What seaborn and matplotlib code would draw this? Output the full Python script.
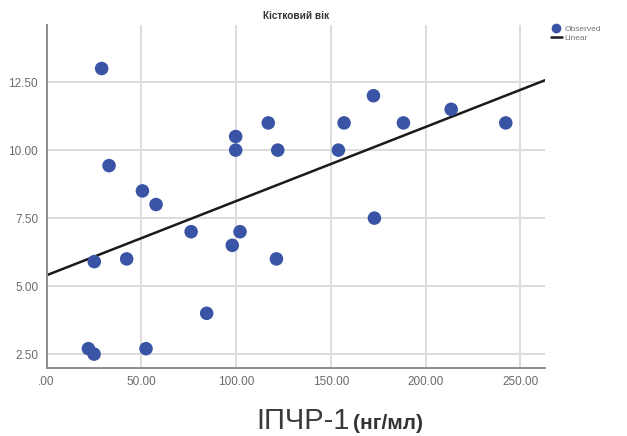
import numpy as np
import pandas as pd
import matplotlib
matplotlib.use("Agg")
import matplotlib.pyplot as plt
from matplotlib.lines import Line2D
import seaborn as sns

# Data
igf = [29.1, 33.0, 50.6, 57.8, 99.8, 99.8, 117.0, 122.0, 157.0, 154.0,
       172.5, 188.3, 213.5, 242.3, 102.1, 98.0, 121.3, 173.0, 25.2, 42.3,
       76.3, 84.5, 22.1, 25.1, 52.5]
bone_age = [13.0, 9.43, 8.5, 8.0, 10.5, 10.0, 11.0, 10.0, 11.0, 10.0,
            12.0, 11.0, 11.5, 11.0, 7.0, 6.5, 6.0, 7.5, 5.9, 6.0,
            7.0, 4.0, 2.7, 2.5, 2.7]
x_ticks = [0, 50, 100, 150, 200, 250]
x_tick_labels = [".00", "50.00", "100.00", "150.00", "200.00", "250.00"]
y_ticks = [2.5, 5.0, 7.5, 10.0, 12.5]
y_tick_labels = ["2.50", "5.00", "7.50", "10.00", "12.50"]
title = "Кістковий вік"
xlabel_main = "ІПЧР-1"
xlabel_unit = "(нг/мл)"
legend_labels = ["Observed", "Linear"]

df = pd.DataFrame({"x": igf, "y": bone_age})

sns.set_style("white")
plt.rcParams["font.family"] = ["Liberation Sans", "DejaVu Sans"]

fig = plt.figure(figsize=(6.27, 4.36), dpi=100)
ax = fig.add_axes([46.5 / 627, 1 - 367.7 / 436, (545 - 46.5) / 627, (367.7 - 25) / 436])

ax.set_xlim(0, 263)
ax.set_ylim(2.0, 14.6)

blue = "#3A54A5"
line_color = "#1a1a1a"
sns.scatterplot(data=df, x="x", y="y", ax=ax, color=blue, s=95,
                edgecolor="none", zorder=3, legend=False)
sns.regplot(data=df, x="x", y="y", ax=ax, scatter=False, ci=None,
            truncate=False, color=line_color,
            line_kws={"linewidth": 1.8, "zorder": 2})

ax.set_xlim(0, 263)
ax.set_ylim(2.0, 14.6)
ax.set_xticks(x_ticks)
ax.set_xticklabels(x_tick_labels)
ax.set_yticks(y_ticks)
ax.set_yticklabels(y_tick_labels)
ax.tick_params(axis="both", length=0, labelsize=8.5, labelcolor="#6b6b6b", pad=6)
ax.grid(True, color="#dcdcdc", linewidth=1.4)
ax.set_axisbelow(True)
for s in ["top", "right"]:
    ax.spines[s].set_visible(False)
for s in ["left", "bottom"]:
    ax.spines[s].set_color("#8c8c8c")
    ax.spines[s].set_linewidth(1.4)
ax.set_xlabel("")
ax.set_ylabel("")

fig.text(296 / 627, 1 - 16 / 436, title, ha="center", va="center",
         fontsize=7.2, fontweight="bold", color="#333333")

fig.text(256 / 627, 1 - 429 / 436, xlabel_main, ha="left", va="baseline",
         fontsize=21, color="#3a3a3a")
fig.text(353 / 627, 1 - 429 / 436, xlabel_unit, ha="left", va="baseline",
         fontsize=15, fontweight="bold", color="#333333")

handles = [
    Line2D([], [], marker="o", linestyle="none", markersize=7,
           markerfacecolor=blue, markeredgecolor="none"),
    Line2D([], [], color=line_color, linewidth=1.8),
]
leg = ax.legend(handles, legend_labels, loc="upper left",
                bbox_to_anchor=(551 / 627, 1 - 25 / 436),
                bbox_transform=fig.transFigure, frameon=False, fontsize=6,
                handlelength=1.3, handletextpad=0.3, labelspacing=0.2,
                borderaxespad=0, borderpad=0)
for t in leg.get_texts():
    t.set_color("#777777")

fig.savefig("out.png", dpi=100)
